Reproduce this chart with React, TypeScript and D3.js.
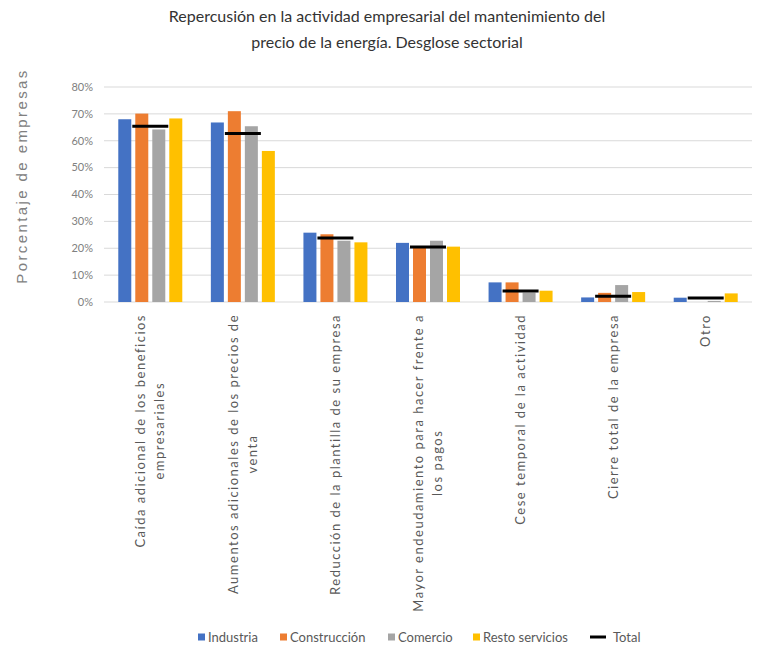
import React, { useLayoutEffect, useRef, useState } from "react";
import * as d3 from "d3";

const categories: string[][] = [
  ["Caída adicional de los beneficios", "empresariales"],
  ["Aumentos adicionales de los precios de", "venta"],
  ["Reducción de la plantilla de su empresa"],
  ["Mayor endeudamiento para hacer frente a", "los pagos"],
  ["Cese temporal de la actividad"],
  ["Cierre total de la empresa"],
  ["Otro"],
];
const seriesNames = ["Industria", "Construcción", "Comercio", "Resto servicios"];
const industria = [0.68, 0.668, 0.258, 0.22, 0.073, 0.017, 0.016];
const construccion = [0.701, 0.71, 0.252, 0.203, 0.073, 0.034, 0.0];
const comercio = [0.642, 0.654, 0.228, 0.228, 0.035, 0.063, 0.004];
const resto = [0.683, 0.562, 0.222, 0.206, 0.042, 0.037, 0.032];
const total = [0.654, 0.627, 0.238, 0.205, 0.041, 0.021, 0.015];
const yTicks = [0, 0.1, 0.2, 0.3, 0.4, 0.5, 0.6, 0.7, 0.8];
const colors = ["#4472C4", "#ED7D31", "#A5A5A5", "#FFC000"];

const W = 762;
const H = 649;
const plot = { left: 104, right: 752, top: 87, bottom: 302 };
const labelTop = 314;

export default function App() {
  const series = [industria, construccion, comercio, resto];
  const x = d3
    .scaleBand<number>()
    .domain(d3.range(categories.length))
    .range([plot.left, plot.right]);
  const y = d3.scaleLinear().domain([0, 0.8]).range([plot.bottom, plot.top]);
  const fmt = d3.format(".0%");
  const barW = 13;
  const step = 17;
  const legendX = [198, 280, 388, 473];
  const legendY = 637;

  const firstRefs = useRef<(SVGTextElement | null)[]>([]);
  const [lens, setLens] = useState<number[]>(categories.map(() => 220));
  useLayoutEffect(() => {
    const l = categories.map((_, i) => {
      const el = firstRefs.current[i];
      return el ? el.getComputedTextLength() : 220;
    });
    setLens(l);
  }, []);

  return (
    <svg
      width={W}
      height={H}
      style={{ position: "absolute", left: 0, top: 0, background: "#fff" }}
      fontFamily="Lato, 'Liberation Sans', sans-serif"
    >
      <rect width={W} height={H} fill="#fff" />
      <text x={387} y={22} textAnchor="middle" fontSize={16} fill="#333">
        Repercusión en la actividad empresarial del mantenimiento del
      </text>
      <text x={387} y={48} textAnchor="middle" fontSize={16} fill="#333">
        precio de la energía. Desglose sectorial
      </text>
      <text
        transform={`translate(27,176) rotate(-90)`}
        textAnchor="middle"
        fontSize={15}
        letterSpacing={2.4}
        fill="#808080"
        fontFamily="'Liberation Sans', sans-serif"
      >
        Porcentaje de empresas
      </text>
      {yTicks.map((t) => (
        <g key={t}>
          <line
            x1={plot.left}
            x2={plot.right}
            y1={y(t)}
            y2={y(t)}
            stroke="#d9d9d9"
            strokeWidth={1}
          />
          <text
            x={93}
            y={y(t)}
            dy="0.35em"
            textAnchor="end"
            fontSize={11}
            fill="#808080"
          >
            {fmt(t)}
          </text>
        </g>
      ))}
      {categories.map((c, i) => {
        const cx = (x(i) as number) + x.bandwidth() / 2;
        return (
          <g key={i}>
            {series.map((s, j) => (
              <rect
                key={j}
                x={cx + (j - 1.5) * step - barW / 2}
                y={y(s[i])}
                width={barW}
                height={plot.bottom - y(s[i])}
                fill={colors[j]}
              />
            ))}
            <line
              x1={cx - 18}
              x2={cx + 18}
              y1={y(total[i])}
              y2={y(total[i])}
              stroke="#000"
              strokeWidth={3}
            />
            {c.map((line, k) => {
              const lx = cx + (k - (c.length - 1) / 2) * 19;
              const isFirst = k === 0;
              return (
                <text
                  key={k}
                  ref={isFirst ? (el) => { firstRefs.current[i] = el; } : undefined}
                  transform={`translate(${lx},0) rotate(-90)`}
                  x={isFirst ? -labelTop : -(labelTop + lens[i] / 2)}
                  y={0}
                  dy="0.35em"
                  textAnchor={isFirst ? "end" : "middle"}
                  fontSize={13}
                  letterSpacing={1.5}
                  fill="#595959"
                >
                  {line}
                </text>
              );
            })}
          </g>
        );
      })}
      {legendX.map((lx, j) => (
        <g key={j}>
          <rect x={lx} y={legendY - 3.5} width={7} height={7} fill={colors[j]} />
          <text x={lx + 10} y={legendY} dy="0.35em" fontSize={13} fill="#595959">
            {seriesNames[j]}
          </text>
        </g>
      ))}
      <line x1={590} x2={606} y1={legendY} y2={legendY} stroke="#000" strokeWidth={3} />
      <text x={613} y={legendY} dy="0.35em" fontSize={13} fill="#595959">
        Total
      </text>
    </svg>
  );
}
